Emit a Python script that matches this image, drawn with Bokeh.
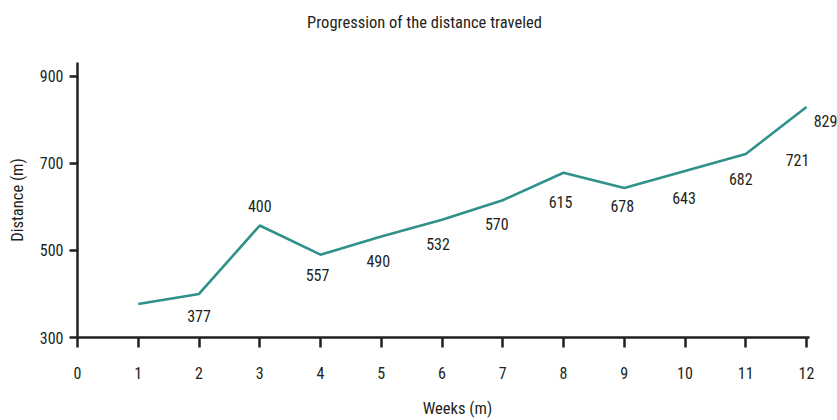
from bokeh.plotting import figure
from bokeh.layouts import column
from bokeh.models import ColumnDataSource, Range1d, FixedTicker
from bokeh.core.properties import value
from bokeh.embed import file_html
from bokeh.resources import INLINE

title_text = "Progression of the distance traveled"
weeks = [1, 2, 3, 4, 5, 6, 7, 8, 9, 10, 11, 12]
distance = [377, 400, 557, 490, 532, 570, 615, 678, 643, 682, 721, 829]
x_ticks = [0, 1, 2, 3, 4, 5, 6, 7, 8, 9, 10, 11, 12]
y_ticks = [300, 500, 700, 900]

FONT = "'Roboto Condensed', 'Liberation Sans Narrow', 'Open Sans Condensed', Roboto, sans-serif"
TEAL = "#2f9189"
INK = "#231f20"

# --- title strip (a small figure of its own; its frame is aligned with the chart's frame) ---
t = figure(width=837, height=62, output_backend="svg", toolbar_location=None,
           x_range=Range1d(77, 837), y_range=Range1d(0, 62),
           x_axis_location=None, y_axis_location=None,
           min_border=0, min_border_left=77, min_border_right=0,
           min_border_top=0, min_border_bottom=0)
t.grid.visible = False
t.outline_line_color = None
t.text(x=[424], y=[40], text=[title_text], text_font=value(FONT), text_font_size="16.5px",
       text_color=INK, text_align="center", text_baseline="middle")

# --- main chart ---
p = figure(width=837, height=358, output_backend="svg", toolbar_location=None,
           x_range=Range1d(0, 12.51), y_range=Range1d(300, 931),
           min_border_left=77, min_border_right=0, min_border_top=0, min_border_bottom=82)
p.grid.visible = False
p.outline_line_color = None
p.background_fill_color = "white"
p.border_fill_color = "white"

p.line(weeks, distance, line_color=TEAL, line_width=2.6)

# labels: value of each week drawn next to the following point (as in the reference)
lab_x = weeks[1:] + [weeks[-1]]
lab_y = distance[1:] + [distance[-1]]
x_off = [0, 0, -3, -3, -4, -6, -3, -2, -1, -5, -9, 19]
y_off = [22, -19, 20, 25, 24, 24, 29, 18, 27, 25, 53, 14]
src = ColumnDataSource(dict(x=lab_x, y=lab_y, t=[str(v) for v in distance], xo=x_off, yo=y_off))
p.text(x="x", y="y", text="t", x_offset="xo", y_offset="yo", source=src,
       text_font=value(FONT), text_font_size="16px", text_color=INK,
       text_align="center", text_baseline="middle")

for ax in (p.xaxis[0], p.yaxis[0]):
    ax.axis_line_color = INK
    ax.axis_line_width = 2.5
    ax.major_tick_line_color = INK
    ax.major_tick_line_width = 2.5
    ax.minor_tick_line_color = None
    ax.major_tick_in = 0
    ax.major_label_text_font = FONT
    ax.major_label_text_font_size = "16px"
    ax.major_label_text_color = INK
    ax.axis_label_text_font = FONT
    ax.axis_label_text_font_size = "16.5px"
    ax.axis_label_text_font_style = "normal"
    ax.axis_label_text_color = INK

p.xaxis.bounds = (0, 12.05)
p.xaxis.ticker = FixedTicker(ticks=x_ticks)
p.yaxis.ticker = FixedTicker(ticks=y_ticks)
p.xaxis.axis_label = "Weeks (m)"
p.yaxis.axis_label = "Distance (m)"
p.xaxis.major_tick_out = 10
p.yaxis.major_tick_out = 8
p.xaxis.major_label_standoff = 19
p.yaxis.major_label_standoff = 6
p.xaxis.axis_label_standoff = 17
p.yaxis.axis_label_standoff = 10

layout = column(t, p, spacing=0)
open("out.html", "w").write(file_html(layout, INLINE))
